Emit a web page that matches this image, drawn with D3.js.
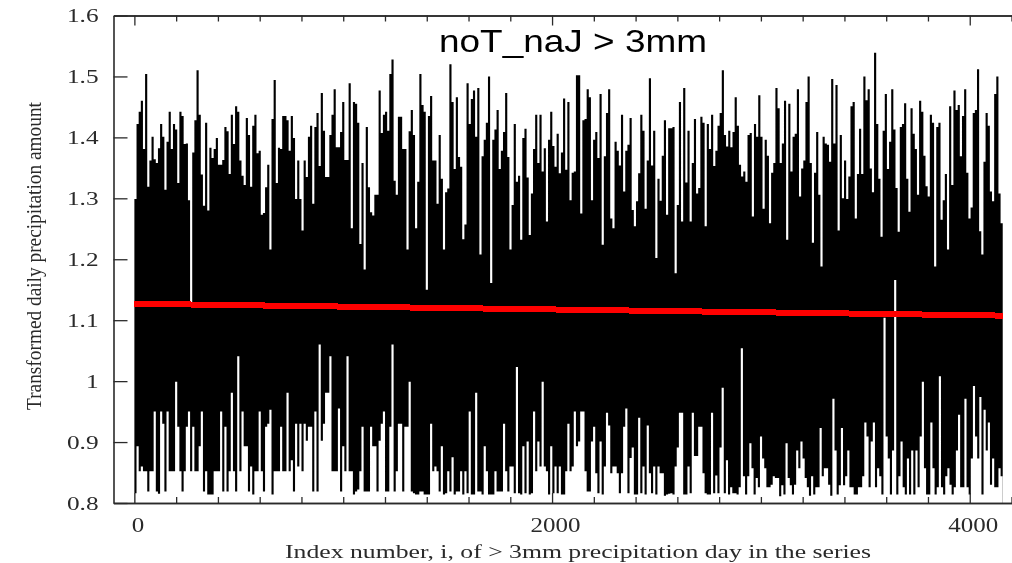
<!DOCTYPE html>
<html><head><meta charset="utf-8">
<script src="https://cdn.jsdelivr.net/npm/d3@7/dist/d3.min.js"></script>
<style>html,body{margin:0;padding:0;background:#fff}svg{display:block;filter:blur(0.35px)}</style>
</head><body><div id="chart"></div>
<script>
const titleText = "noT_naJ > 3mm";
const xLabel = "Index number, i, of > 3mm precipitation day in the series";
const yLabel = "Transformed daily precipitation amount";
const xMajorTicks = [0, 2000, 4000];
const xMinorTicks = [200,400,600,800,1000,1200,1400,1600,1800,2200,2400,2600,2800,3000,3200,3400,3600,3800,4200];
const yTicks = [0.8,0.9,1,1.1,1.2,1.3,1.4,1.5,1.6];
const trendIndex = [0, 4158];
const trendValue = [1.127, 1.1075];
// spans of the series covered by each group of readings
const segmentEdges = [0, 1272, 2710, 4158];

const upperA = [1.299,1.422,1.442,1.460,1.381,1.504,1.319,1.362,1.401,1.364,1.358,1.382,1.422,1.401,1.314,1.393,1.442,1.381,1.422,1.413,1.325,1.442,1.435,1.389,1.390,1.297,1.13,1.375,1.428,1.510,1.437,1.339,1.288,1.424,1.280,1.383,1.366,1.381,1.399,1.355,1.355,1.363,1.417,1.410,1.340,1.437,1.389,1.451,1.442,1.362,1.337,1.322,1.432,1.404,1.319,1.419,1.437,1.374,1.378,1.273,1.276,1.318,1.355,1.216,1.430,1.494,1.325,1.383,1.381,1.435,1.435,1.428,1.378,1.435,1.399,1.299,1.362,1.299,1.247,1.362,1.335,1.401,1.419,1.291,1.417,1.440,1.353,1.473,1.411,1.335,1.335,1.404,1.437,1.479,1.384,1.384,1.409,1.458,1.363,1.363,1.489,1.251,1.458,1.455,1.424,1.225,1.358,1.183,1.417,1.318,1.277,1.272,1.306,1.306,1.477,1.407,1.437,1.442,1.411,1.504,1.528,1.329,1.306,1.434];
const upperB = [1.434,1.381,1.381,1.216,1.410,1.445,1.404,1.251,1.327,1.504,1.453,1.442,1.150,1.435,1.468,1.362,1.362,1.291,1.404,1.332,1.216,1.310,1.316,1.520,1.458,1.348,1.466,1.368,1.352,1.233,1.257,1.489,1.422,1.463,1.477,1.401,1.481,1.208,1.369,1.396,1.424,1.500,1.161,1.396,1.413,1.445,1.348,1.378,1.409,1.473,1.368,1.216,1.289,1.422,1.327,1.337,1.232,1.399,1.414,1.334,1.240,1.308,1.381,1.437,1.358,1.437,1.344,1.382,1.262,1.396,1.442,1.386,1.352,1.406,1.341,1.375,1.464,1.347,1.458,1.297,1.342,1.344,1.502,1.502,1.275,1.428,1.430,1.479,1.466,1.297,1.396,1.409,1.366,1.471,1.224,1.369,1.440,1.479,1.267,1.251,1.393,1.378,1.354,1.437,1.311,1.378,1.388,1.432,1.281,1.254,1.295,1.341,1.437,1.411,1.283,1.362,1.497,1.354,1.411,1.202,1.332,1.296,1.370,1.428,1.273,1.415,1.415,1.417,1.177,1.289,1.458,1.262,1.481,1.326,1.411,1.262,1.358,1.430,1.308,1.317];
const upperC = [1.434,1.424,1.254,1.422,1.381,1.437,1.353,1.378,1.419,1.440,1.510,1.404,1.385,1.411,1.384,1.409,1.466,1.419,1.355,1.336,1.344,1.327,1.404,1.407,1.270,1.422,1.401,1.469,1.401,1.283,1.396,1.370,1.259,1.342,1.358,1.481,1.448,1.358,1.390,1.460,1.232,1.455,1.344,1.401,1.406,1.479,1.303,1.349,1.362,1.458,1.500,1.358,1.227,1.342,1.409,1.306,1.188,1.401,1.390,1.388,1.360,1.496,1.390,1.486,1.247,1.404,1.300,1.362,1.299,1.336,1.451,1.458,1.267,1.340,1.414,1.340,1.500,1.461,1.479,1.349,1.310,1.539,1.422,1.332,1.237,1.411,1.471,1.348,1.393,1.479,1.413,1.317,1.245,1.417,1.422,1.456,1.332,1.278,1.448,1.406,1.381,1.306,1.460,1.442,1.370,1.320,1.303,1.437,1.424,1.188,1.417,1.424,1.265,1.297,1.340,1.216,1.451,1.322,1.477,1.445,1.453,1.369,1.435,1.479,1.342,1.267,1.285,1.440,1.445,1.512,1.246,1.208,1.360,1.440,1.419,1.311,1.295,1.471,1.500,1.308,1.259];

const lowerA = [.816,.893,.852,.860,.852,.852,.819,.852,.852,.950,.819,.815,.950,.930,.819,.950,.852,.852,.852,.999,.925,.852,.819,.852,.925,.950,.852,.925,.852,.852,.893,.950,.819,.852,.814,.814,.814,.852,.852,.852,.950,.819,.925,.819,.852,.981,.852,.819,1.041,.852,.950,.893,.893,.819,.860,.814,.852,.852,.950,.852,.819,.925,.930,.953,.814,.852,.852,.852,.925,.852,.852,.981,.852,.870,.819,.930,.860,.930,.852,.930,.902,.925,.925,.819,.950,.819,1.060,.902,.930,.981,.981,1.041,.852,.852,.852,.955,.819,.893,.852,1.041,.852,.852,.814,.819,.822,.852,.925,.819,.819,.819,.925,.893,.893,.819,.902,.930,.950,.819,.819,.925,1.060,.819,.852,.930];
const lowerB = [.930,.819,.925,.925,.999,.819,.816,.814,.814,.819,.819,.814,.814,.814,.930,.852,.860,.852,.819,.893,.814,.816,.852,.819,.875,.814,.819,.819,.852,.814,.852,.816,.950,.814,.814,.981,.819,.819,.814,.893,.852,.814,.814,.814,.852,.819,.819,.819,.930,.852,.819,.860,.860,.816,1.023,.816,.814,.893,.816,.901,.814,.816,.950,.852,.901,.860,.999,.860,.852,.814,.893,.816,.860,.816,.860,.814,.814,.852,.930,.852,.860,.950,.893,.901,.950,.950,.852,.819,.819,.901,.925,.849,.816,.901,.814,.860,.948,.927,.849,.860,.860,.849,.816,.849,.925,.955,.816,.874,.891,.814,.814,.940,.816,.860,.814,.927,.849,.816,.860,.814,.860,.849,.849,.812,.814,.815,.816,.814,.860,.891,.948,.948,.814,.814,.860,.816,.948,.877,.877,.925];
const lowerC = [.925,.849,.816,.814,.814,.948,.816,.845,.816,.891,.989,.816,.870,.814,.826,.816,.816,.814,.826,1.054,.844,.814,.844,.898,.857,.814,.841,.826,.909,.873,.857,.826,.826,.830,.844,.841,.841,.811,.829,.814,.898,.841,.829,.814,.830,.886,.857,.901,.873,.841,.826,.812,.844,.814,.826,.826,.923,.844,.857,.857,.830,.812,.971,.886,.814,.829,.923,.829,.844,.886,.826,.826,.814,.814,.826,.826,.844,.932,.909,.826,.901,.932,.826,.857,.844,.814,1.104,.909,.873,.814,.886,1.166,.814,.844,.901,.826,.814,.873,.814,.886,.814,.886,.826,.909,.999,.857,.814,.814,.932,.857,.814,.826,1.008,.826,.814,.844,.857,.830,.814,.826,.886,.945,.826,.826,.971,.826,.814,.873,.992,.909,.873,.974,.814,.953,.886,.932,.830,.873,.826,.826,.857,.844];

const W = 1012, H = 563;
const svg = d3.select("#chart").append("svg").attr("width", W).attr("height", H);
const x = d3.scaleLinear().domain([-100, 4200]).range([113.5, 1011.5]);
const y = d3.scaleLinear().domain([0.8, 1.6]).range([503, 15.5]);
const ink = "#2a2a2a";

function steps(groups) {
  const out = [];
  groups.forEach((g, k) => {
    const a = segmentEdges[k], b = segmentEdges[k + 1], step = (b - a) / g.length;
    g.forEach((v, i) => out.push([a + i * step, v]));
  });
  out.push([segmentEdges[segmentEdges.length - 1], out[out.length - 1][1]]);
  return out;
}
const silhouette = d3.area().curve(d3.curveStepAfter)
  .x(d => x(d[0])).y0(y(0.8)).y1(d => y(d[1]));

// upper readings: black mass rising from the axis
svg.append("path").datum(steps([upperA, upperB, upperC])).attr("fill", "#000").attr("d", silhouette);
// lower readings: the clear space under the mass
svg.append("path").datum(steps([lowerA, lowerB, lowerC])).attr("fill", "#fff").attr("d", silhouette);

// trend line
svg.append("path").datum(trendIndex.map((t, i) => [t, trendValue[i]]))
  .attr("fill", "none").attr("stroke", "#f00").attr("stroke-width", 6).attr("shape-rendering", "crispEdges")
  .attr("d", d3.line().x(d => x(d[0])).y(d => y(d[1])));

// axes
function styleAxis(g) {
  g.selectAll("path.domain").attr("stroke", ink).attr("stroke-width", 1.6);
  g.selectAll(".tick line").attr("stroke", ink).attr("stroke-width", 1.3);
  g.selectAll("text").attr("fill", ink).attr("font-family", "'Liberation Serif', serif");
}
const noLabel = () => "";
const gBottomMinor = svg.append("g").attr("transform", `translate(0,${y(0.8)})`)
  .call(d3.axisBottom(x).tickValues(xMinorTicks).tickSize(-6).tickSizeOuter(0).tickFormat(noLabel)).call(styleAxis);
const gBottom = svg.append("g").attr("transform", `translate(0,${y(0.8)})`)
  .call(d3.axisBottom(x).tickValues(xMajorTicks).tickSize(-10).tickSizeOuter(0).tickPadding(15)).call(styleAxis);
gBottom.selectAll("text").text(d => d).attr("font-size", 20).attr("dx", 3);
const gTopMinor = svg.append("g").attr("transform", `translate(0,${y(1.6)})`)
  .call(d3.axisTop(x).tickValues(xMinorTicks).tickSize(-6).tickSizeOuter(0).tickFormat(noLabel)).call(styleAxis);
const gTop = svg.append("g").attr("transform", `translate(0,${y(1.6)})`)
  .call(d3.axisTop(x).tickValues(xMajorTicks).tickSize(-10).tickSizeOuter(0).tickFormat(noLabel)).call(styleAxis);
const gLeft = svg.append("g").attr("transform", `translate(${x(-100)},0)`)
  .call(d3.axisLeft(y).tickValues(yTicks).tickSize(-14).tickSizeOuter(0).tickPadding(15).tickFormat(d => String(d))).call(styleAxis);
gLeft.selectAll("text").attr("font-size", 19);

function stretch(sel, f) {
  sel.each(function () {
    const len = this.getComputedTextLength();
    d3.select(this).attr("textLength", len * f).attr("lengthAdjust", "spacingAndGlyphs");
  });
}
stretch(gLeft.selectAll("text"), 1.33);
stretch(gBottom.selectAll("text"), 1.25);

svg.append("text").attr("x", 578).attr("y", 558).attr("text-anchor", "middle")
  .attr("font-family", "'Liberation Serif', serif").attr("font-size", 18).attr("fill", ink)
  .attr("textLength", 586).attr("lengthAdjust", "spacingAndGlyphs").text(xLabel);
svg.append("text").attr("transform", "translate(41,256) rotate(-90)").attr("text-anchor", "middle")
  .attr("font-family", "'Liberation Serif', serif").attr("font-size", 20).attr("fill", ink)
  .attr("textLength", 308).attr("lengthAdjust", "spacingAndGlyphs").text(yLabel);
svg.append("text").attr("x", 439).attr("y", 52)
  .attr("font-family", "'Liberation Sans', Arial, sans-serif").attr("font-size", 32).attr("fill", "#000")
  .attr("textLength", 268).attr("lengthAdjust", "spacingAndGlyphs").text(titleText);
</script></body></html>
